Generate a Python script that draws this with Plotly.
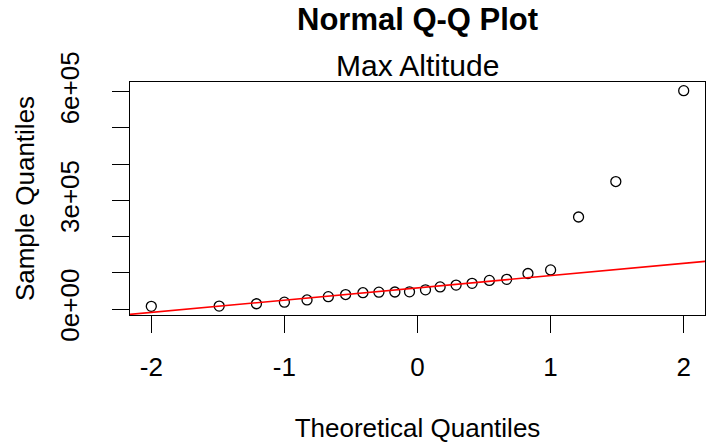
import numpy as np
import plotly.graph_objects as go

# Theoretical normal quantiles (x) and sorted sample values (y)
theoretical = [-2.00, -1.49, -1.21, -1.00, -0.83, -0.67, -0.54, -0.41, -0.29, -0.17, -0.06,
               0.06, 0.17, 0.29, 0.41, 0.54, 0.67, 0.83, 1.00, 1.21, 1.49, 2.00]
sample = [7300, 8000, 14500, 19000, 25000, 34000, 40000, 45000, 46500, 47000, 47500,
          53000, 61000, 66000, 71000, 79000, 82000, 98000, 108000, 254000, 352000, 603000]

x_tickvals = [-2, -1, 0, 1, 2]
x_ticktext = ["-2", "-1", "0", "1", "2"]
y_tickvals = [0, 100000, 200000, 300000, 400000, 500000, 600000]
y_ticktext = ["0e+00", "", "", "3e+05", "", "", "6e+05"]

title = "Normal Q-Q Plot"
subtitle = "Max Altitude"
x_title = "Theoretical Quantiles"
y_title = "Sample Quantiles"

# qqline: through first and third quartiles
s = np.array(sample, dtype=float)
q1, q3 = np.percentile(s, [25, 75])
z = 0.6744897501960817
slope = (q3 - q1) / (2 * z)
intercept = q1 + z * slope

xr = [min(theoretical), max(theoretical)]
xpad = 0.04 * (xr[1] - xr[0])
xrange = [xr[0] - xpad, xr[1] + xpad]
yr = [s.min(), s.max()]
ypad = 0.04 * (yr[1] - yr[0])
yrange = [yr[0] - ypad, yr[1] + ypad]

line_x = [xrange[0] - 1, xrange[1] + 1]
line_y = [intercept + slope * v for v in line_x]

FONT = "Liberation Sans, Arial, sans-serif"

fig = go.Figure()
fig.add_trace(go.Scatter(
    x=theoretical, y=sample, mode="markers",
    marker=dict(symbol="circle-open", size=10, color="black", line=dict(width=1.3, color="black")),
    showlegend=False, cliponaxis=False,
))
fig.add_trace(go.Scatter(
    x=line_x, y=line_y, mode="lines",
    line=dict(color="red", width=1.6),
    showlegend=False,
))

fig.update_layout(
    width=711, height=447,
    margin=dict(l=130, r=6, t=82, b=132),
    paper_bgcolor="white", plot_bgcolor="white",
    font=dict(family=FONT, color="black", size=26),
    xaxis=dict(
        range=xrange, tickvals=x_tickvals, ticktext=x_ticktext,
        showgrid=False, zeroline=False,
        showline=True, mirror=True, linecolor="black", linewidth=1.3,
        ticks="outside", ticklen=17, tickwidth=1.3, tickcolor="black",
        ticklabelstandoff=12,
        tickfont=dict(size=26),
        title=dict(text=x_title, font=dict(size=26), standoff=37),
    ),
    yaxis=dict(
        range=yrange, tickvals=y_tickvals, ticktext=y_ticktext,
        showgrid=False, zeroline=False,
        showline=True, mirror=True, linecolor="black", linewidth=1.3,
        ticks="outside", ticklen=17, tickwidth=1.3, tickcolor="black",
        tickangle=-90, ticklabelstandoff=22,
        tickfont=dict(size=26),
        title=dict(text=y_title, font=dict(size=26), standoff=13),
    ),
    annotations=[
        dict(text="<b>" + title + "</b>", x=0.5, y=(315 - 20) / 233, xref="paper", yref="paper",
             xanchor="center", yanchor="middle", showarrow=False, font=dict(size=31)),
        dict(text=subtitle, x=0.5, y=(315 - 66) / 233, xref="paper", yref="paper",
             xanchor="center", yanchor="middle", showarrow=False, font=dict(size=30)),
    ],
)

fig.write_html("out.html")
